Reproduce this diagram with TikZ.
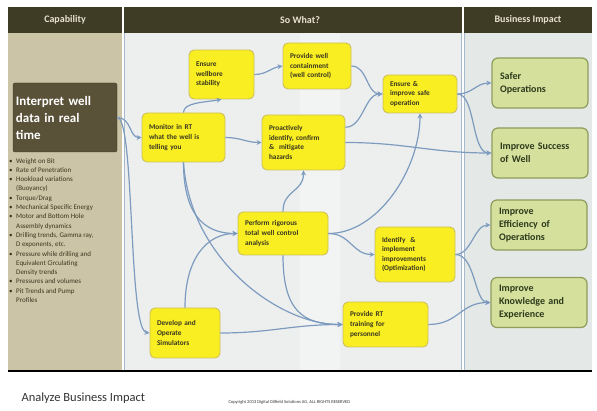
\documentclass[tikz,border=0pt]{standalone}
\usepackage{fontspec}
\setmainfont{Carlito}
\usetikzlibrary{arrows.meta}
\definecolor{headbar}{HTML}{3E3C25}
\definecolor{headtext}{HTML}{E6E2D0}
\definecolor{capfill}{HTML}{CCC4A6}
\definecolor{interpfill}{HTML}{5A5139}
\definecolor{whatfill}{HTML}{EDEFEF}
\definecolor{impback}{HTML}{E4E9E7}
\definecolor{actfill}{HTML}{F8EE22}
\definecolor{actline}{HTML}{CDBF5C}
\definecolor{acttext}{HTML}{3A3620}
\definecolor{impfill}{HTML}{D4E09B}
\definecolor{impline}{HTML}{8E9C5C}
\definecolor{imptext}{HTML}{2E3A1C}
\definecolor{linkblue}{HTML}{7D9BBE}
\definecolor{colline}{HTML}{A7BACC}
\definecolor{baseline}{HTML}{80858C}
\newcommand{\bul}{\makebox[7pt][l]{\textbullet}}
\newcommand{\bulmore}{\hspace*{7pt}}

\begin{document}
\begin{tikzpicture}[x=1pt,y=-1pt,
	act/.style={draw=actline, fill=actfill, line width=0.9pt, rounded corners=5pt, align=left, inner xsep=7pt, inner ysep=3pt, font=\bfseries\fontsize{7.3}{9.6}\selectfont, text=acttext},
	impact/.style={draw=impline, fill=impfill, line width=1.2pt, rounded corners=6pt, align=left, inner xsep=8pt, text width=80pt, minimum height=50pt, font=\bfseries\fontsize{10}{13}\selectfont, text=imptext},
	head/.style={font=\bfseries\fontsize{10}{12}\selectfont, text=headtext},
	link/.style={draw=linkblue, line width=1.2pt, -{Stealth[length=5pt,width=5pt]}}]
	\useasboundingbox (0,0) rectangle (597,411);
	\fill[white] (0,0) rectangle (597,411);
	\fill[headbar] (8,7) rectangle (592,33);
	\fill[capfill] (8,33) rectangle (122,370);
	\fill[whatfill] (124,33) rectangle (462,370);
	\fill[white, opacity=0.3] (300,33) rectangle (340,370);
	\fill[impback] (464,33) rectangle (592,370);
	\fill[white] (122,7) rectangle (124,370);
	\fill[white] (462,7) rectangle (464,370);
	\draw[colline, line width=0.6pt] (124.5,33) -- (124.5,370) (461.5,33) -- (461.5,370) (464.5,33) -- (464.5,370);
	\draw[baseline, line width=2pt] (8,371) -- (592,371);
	\node[head] (hcap) at (65,20) {Capability};
	\node[head] (hwhat) at (300,20) {So What?};
	\node[head] (himp) at (528,20) {Business Impact};

	\node[draw=interpfill!70!black, fill=interpfill, rounded corners=2pt, align=left, inner xsep=3pt, text width=98pt, minimum height=69pt, font=\bfseries\fontsize{13}{17}\selectfont, text=white] (interp) at (65,117.5) {Interpret well\\data in real\\time};
	\node[anchor=north west, align=left, inner sep=0pt, font=\fontsize{7}{9.3}\selectfont, text=acttext] (params) at (9,158) {\bul Weight on Bit\\\bul Rate of Penetration\\\bul Hookload variations\\\bulmore (Buoyancy)\\\bul Torque/Drag\\\bul Mechanical Specific Energy\\\bul Motor and Bottom Hole\\\bulmore Assembly dynamics\\\bul Drilling trends, Gamma ray,\\\bulmore D exponents, etc.\\\bul Pressure while drilling and\\\bulmore Equivalent Circulating\\\bulmore Density trends\\\bul Pressures and volumes\\\bul Pit Trends and Pump\\\bulmore Profiles};

	\node[act, text width=51pt, minimum height=49pt] (wellbore) at (221.5,74.5) {Ensure\\wellbore\\stability};
	\node[act, text width=54pt, minimum height=46pt] (contain) at (317,66) {Provide well\\containment\\(well control)};
	\node[act, text width=60pt, minimum height=38pt] (safeop) at (420,94) {Ensure \&\\improve safe\\operation};
	\node[act, text width=69pt, minimum height=49pt] (monitor) at (183.5,137.5) {Monitor in RT\\what the well is\\telling you};
	\node[act, text width=69pt, minimum height=55pt] (proact) at (303.5,142.5) {Proactively\\identify, confirm\\\& \ mitigate\\hazards};
	\node[act, text width=76pt, minimum height=43pt] (perform) at (283,233.5) {Perform rigorous\\total well control\\analysis};
	\node[act, text width=66pt, minimum height=55pt] (identify) at (415,254.5) {Identify \ \&\\implement\\improvements\\(Optimization)};
	\node[act, text width=71pt, minimum height=45pt] (training) at (385.5,324.5) {Provide RT\\training for\\personnel};
	\node[act, text width=56pt, minimum height=50pt] (simul) at (185,333) {Develop and\\Operate\\Simulators};

	\node[impact] (safer) at (540,83) {Safer\\Operations};
	\node[impact] (success) at (540,153) {Improve Success\\of Well};
	\node[impact] (effic) at (539,225) {Improve\\Efficiency of\\Operations};
	\node[impact] (knowl) at (539,302.5) {Improve\\Knowledge and\\Experience};

	\draw[link] (interp.east) .. controls +(14,0) and +(-12,0) .. (monitor.west);
	\draw[link] (interp.east) .. controls (135,118) and (128,330) .. (simul.west);
	\draw[link] (monitor.north) .. controls +(0,-10) and +(-18,3) .. (wellbore.south);
	\draw[link] (monitor.east) .. controls +(15,0) and +(-15,0) .. (proact.west);
	\draw[link] (monitor.south) .. controls +(0,50) and +(-35,0) .. (perform.west);
	\draw[link] (monitor.south) .. controls (190,260) and (280,325) .. (training.west);
	\draw[link] (wellbore.east) .. controls +(12,0) and +(-12,2) .. (contain.west);
	\draw[link] (contain.east) .. controls +(16,0) and +(-16,0) .. (safeop.west);
	\draw[link] (proact.20) .. controls +(18,0) and +(-18,0) .. (safeop.west);
	\draw[link] (proact.east) .. controls +(60,0) and +(-60,0) .. (success.west);
	\draw[link] (safeop.east) .. controls +(15,0) and +(-15,0) .. (safer.west);
	\draw[link] (safeop.east) .. controls +(18,0) and +(-20,0) .. (success.west);
	\draw[link] (perform.north) .. controls +(0,-22) and +(0,22) .. (proact.south);
	\draw[link] (perform.east) .. controls +(50,0) and +(0,55) .. (safeop.south);
	\draw[link] (perform.east) .. controls +(22,0) and +(-22,0) .. (identify.west);
	\draw[link] (perform.south) .. controls +(0,55) and +(-40,0) .. (training.west);
	\draw[link] (simul.north) .. controls +(0,-50) and +(-30,0) .. (perform.west);
	\draw[link] (simul.east) .. controls +(50,0) and +(-50,0) .. (training.west);
	\draw[link] (identify.east) .. controls +(16,0) and +(-16,0) .. (effic.west);
	\draw[link] (identify.east) .. controls +(20,0) and +(-16,0) .. (knowl.west);
	\draw[link] (training.east) .. controls +(30,0) and +(-30,0) .. (knowl.west);

	\node[anchor=west, font=\fontsize{12.5}{14}\selectfont, text=black!80] (title) at (18,398) {Analyze Business Impact};
	\node[anchor=west, font=\fontsize{4.5}{5}\selectfont, text=black!80] (copy) at (225,402) {Copyright 2013 Digital Oilfield Solutions AG, ALL RIGHTS RESERVED};
\end{tikzpicture}
\end{document}
